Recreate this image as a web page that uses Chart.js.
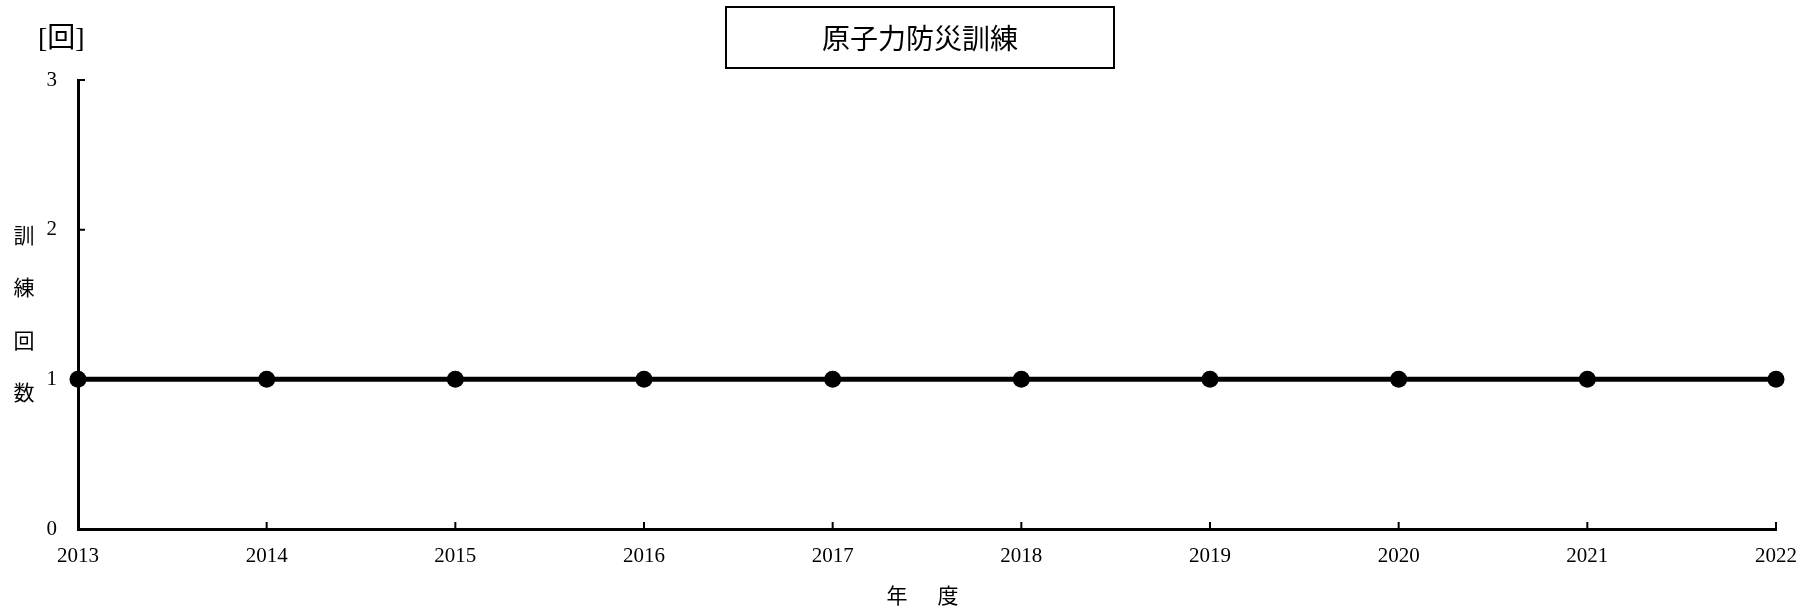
<!DOCTYPE html>
<html>
<head>
<meta charset="utf-8">
<script src="https://cdn.jsdelivr.net/npm/chart.js@4.4.1/dist/chart.umd.min.js"></script>
<style>
  html, body { margin: 0; padding: 0; background: #fff; }
  #wrap { width: 1814px; height: 610px; }
</style>
</head>
<body>
<div id="wrap"><canvas id="line-chart" width="1814" height="610"></canvas></div>
<script>
// 年度ごとの訓練回数
const years = ['2013', '2014', '2015', '2016', '2017', '2018', '2019', '2020', '2021', '2022'];
const trainingCount = [1, 1, 1, 1, 1, 1, 1, 1, 1, 1];
const yTicks = [0, 1, 2, 3];

const chartTitle = '原子力防災訓練';
const unitLabel = '[回]';
const yTitleChars = ['訓', '練', '回', '数'];
const xTitleChars = ['年', '度'];

const serif = "'Liberation Serif', 'Noto Sans CJK JP', serif";
const gothic = "'Noto Sans CJK JP', sans-serif";

// 目盛り（内向き）・タイトル枠・軸ラベルを描く
const decorations = {
	id: 'decorations',
	afterDraw(chart) {
		const ctx = chart.ctx;
		const x = chart.scales.x;
		const y = chart.scales.y;
		const area = chart.chartArea;

		ctx.save();
		ctx.strokeStyle = '#000';
		ctx.lineWidth = 2;
		ctx.beginPath();
		years.forEach((yr, i) => {
			const px = x.getPixelForValue(i);
			ctx.moveTo(px, area.bottom);
			ctx.lineTo(px, area.bottom - 7);
		});
		yTicks.forEach(v => {
			const py = y.getPixelForValue(v);
			ctx.moveTo(area.left, py);
			ctx.lineTo(area.left + 7, py);
		});
		ctx.stroke();

		// タイトル枠
		ctx.lineWidth = 2;
		ctx.strokeRect(726, 7, 388, 61);
		ctx.fillStyle = '#000';
		ctx.textAlign = 'center';
		ctx.textBaseline = 'middle';
		ctx.font = '28px ' + gothic;
		ctx.fillText(chartTitle, 920, 38);

		// 単位
		ctx.textAlign = 'left';
		ctx.font = '28px ' + serif;
		ctx.fillText(unitLabel, 38, 40);

		// 縦軸タイトル
		ctx.textAlign = 'center';
		ctx.font = '21px ' + gothic;
		yTitleChars.forEach((c, i) => ctx.fillText(c, 24, 235 + i * 52.5));

		// 横軸タイトル
		ctx.fillText(xTitleChars[0], 897, 595);
		ctx.fillText(xTitleChars[1], 948, 595);
		ctx.restore();
	}
};

new Chart(document.getElementById('line-chart'), {
	type: 'line',
	data: {
		labels: years,
		datasets: [{
			data: trainingCount,
			borderColor: '#000',
			backgroundColor: '#000',
			borderWidth: 5,
			pointRadius: 8.5,
			pointHoverRadius: 8.5,
			pointBackgroundColor: '#000',
			pointBorderWidth: 0,
			fill: false,
			clip: false
		}]
	},
	options: {
		responsive: false,
		animation: false,
		layout: { padding: { top: 80, right: 38, left: 0, bottom: 0 } },
		plugins: {
			legend: { display: false },
			title: { display: false },
			tooltip: { enabled: false }
		},
		scales: {
			x: {
				offset: false,
				grid: { display: true, drawOnChartArea: false, drawTicks: false, color: 'rgba(0,0,0,0)' },
				border: { display: true, color: '#000', width: 3 },
				ticks: { color: '#000', font: { family: serif, size: 21 }, padding: 15, maxRotation: 0, autoSkip: false },
				afterFit(scale) { scale.height = 81; }
			},
			y: {
				min: 0,
				max: 3,
				grid: { display: true, drawOnChartArea: false, drawTicks: false, color: 'rgba(0,0,0,0)' },
				border: { display: true, color: '#000', width: 3 },
				ticks: { stepSize: 1, color: '#000', font: { family: serif, size: 21 }, padding: 21 },
				afterFit(scale) { scale.width = 78; }
			}
		}
	},
	plugins: [decorations]
});
</script>
</body>
</html>
